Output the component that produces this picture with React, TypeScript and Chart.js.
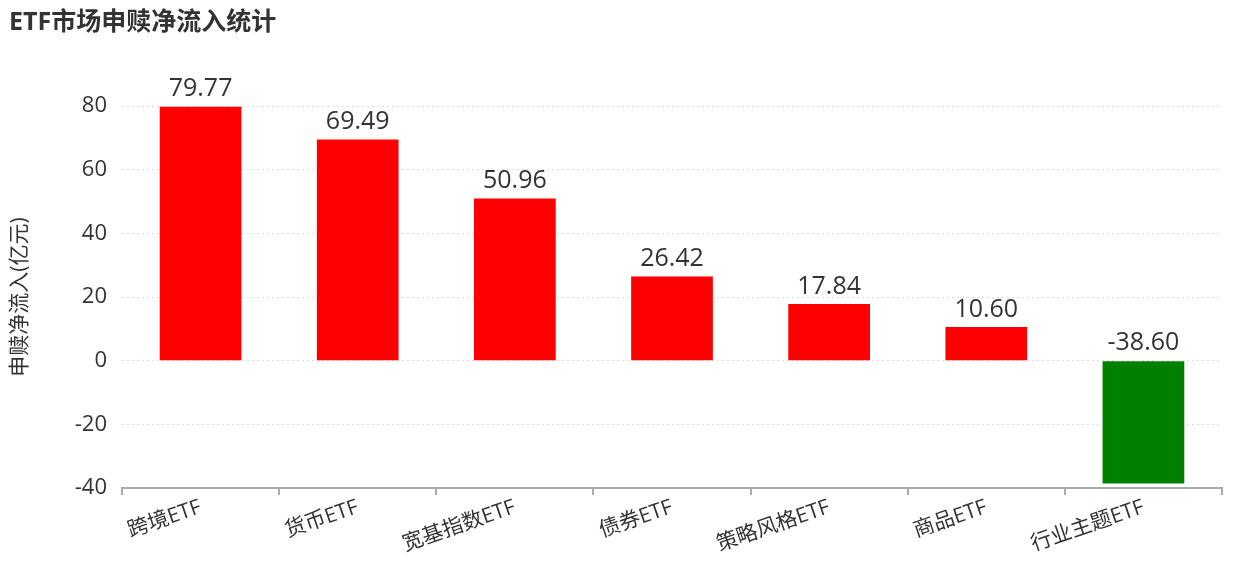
import React, { useEffect, useRef } from "react";
import { Chart, registerables, Plugin } from "chart.js";

Chart.register(...registerables);

const FONT = "'Open Sans', 'Noto Sans CJK SC', sans-serif";

const title = "ETF市场申赎净流入统计";
const yAxisTitle = "申赎净流入(亿元)";
const categories = ["跨境ETF", "货币ETF", "宽基指数ETF", "债券ETF", "策略风格ETF", "商品ETF", "行业主题ETF"];
const values = [79.77, 69.49, 50.96, 26.42, 17.84, 10.6, -38.6];
const yMin = -40;
const yMax = 80;
const yStep = 20;

const titlePlugin: Plugin<"bar"> = {
  id: "topTitle",
  afterDraw(chart) {
    const { ctx } = chart;
    ctx.save();
    ctx.font = `bold 25px ${FONT}`;
    ctx.fillStyle = "#333";
    ctx.textAlign = "left";
    ctx.textBaseline = "middle";
    ctx.fillText(title, 9, 23);
    ctx.restore();
  },
};

// value on top of each bar; negative bars get it above the zero line
const valueLabels: Plugin<"bar"> = {
  id: "valueLabels",
  afterDatasetsDraw(chart) {
    const { ctx } = chart;
    const meta = chart.getDatasetMeta(0);
    const zero = chart.scales.y.getPixelForValue(0);
    ctx.save();
    ctx.font = `25px ${FONT}`;
    ctx.fillStyle = "#333";
    ctx.textAlign = "center";
    ctx.textBaseline = "bottom";
    meta.data.forEach((bar: any, i) => {
      const v = values[i];
      const top = v >= 0 ? bar.y : zero;
      ctx.fillText(v.toFixed(2), bar.x, top - 5);
    });
    ctx.restore();
  },
};

const App: React.FC = () => {
  const canvas = useRef<HTMLCanvasElement>(null);
  const chart = useRef<Chart<"bar">>();

  useEffect(() => {
    chart.current = new Chart(canvas.current!.getContext("2d")!, {
      type: "bar",
      data: {
        labels: categories,
        datasets: [
          {
            data: values,
            backgroundColor: values.map(v => (v >= 0 ? "#ff0000" : "#008000")),
            barPercentage: 0.52,
            categoryPercentage: 1,
          },
        ],
      },
      options: {
        responsive: true,
        maintainAspectRatio: false,
        animation: false,
        layout: {
          padding: { top: 106, right: 16, left: 0, bottom: 0 },
        },
        plugins: {
          legend: { display: false },
          tooltip: { enabled: false },
          title: { display: false },
        },
        scales: {
          x: {
            offset: true,
            grid: {
              display: true,
              drawOnChartArea: false,
              drawTicks: true,
              tickLength: 7,
              color: "#aaa",
              lineWidth: 2,
            },
            border: { display: true, color: "#aaa", width: 2 },
            ticks: {
              color: "#333",
              font: { family: FONT, size: 21 },
              minRotation: 19,
              maxRotation: 19,
              padding: 0,
              autoSkip: false,
            },
            afterFit: (scale: any) => {
              scale.height = 80;
            },
          },
          y: {
            min: yMin,
            max: yMax,
            ticks: {
              stepSize: yStep,
              color: "#333",
              font: { family: FONT, size: 22 },
              padding: 15,
            },
            grid: {
              color: "#ddd",
              drawTicks: false,
              lineWidth: 1,
            },
            border: { display: false, dash: [2, 3] },
            title: {
              display: true,
              text: yAxisTitle,
              color: "#333",
              font: { family: FONT, size: 21 },
              padding: { top: 7, bottom: 0 },
            },
            afterFit: (scale: any) => {
              scale.width = 122;
            },
          },
        },
      },
      plugins: [titlePlugin, valueLabels],
    });

    return () => {
      chart.current?.destroy();
    };
  }, []);

  return (
    <div style={{ position: "fixed", left: 0, top: 0, width: 1238, height: 568, background: "#fff" }}>
      <canvas ref={canvas}></canvas>
    </div>
  );
};

export default App;
